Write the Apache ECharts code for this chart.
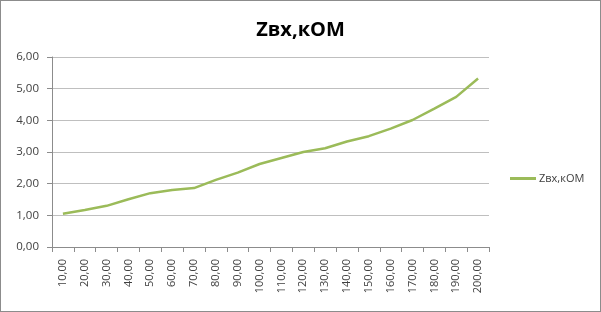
<!DOCTYPE html>
<html>
<head>
<meta charset="utf-8">
<script src="https://cdn.jsdelivr.net/npm/echarts@6/dist/echarts.min.js"></script>
<style>
html,body{margin:0;padding:0;background:#fff;}
#frame{position:absolute;left:0;top:0;width:599px;height:310px;border:1px solid #8c8c8c;}
#chart{position:absolute;left:0;top:0;width:601px;height:312px;}
</style>
</head>
<body>
<div id="frame"></div>
<div id="chart"></div>
<script>
const titleText = 'Zвх,кОМ';
const seriesName = 'Zвх,кОМ';
const categories = [10,20,30,40,50,60,70,80,90,100,110,120,130,140,150,160,170,180,190,200];
const values = [1.05,1.17,1.30,1.51,1.70,1.80,1.86,2.12,2.35,2.62,2.81,3.00,3.12,3.33,3.50,3.74,4.01,4.37,4.74,5.32];
const yTicks = [0,1,2,3,4,5,6];

const fmt = v => Number(v).toFixed(2).replace('.', ',');
const chart = echarts.init(document.getElementById('chart'));
chart.setOption({
  animation: false,
  title: {
    text: titleText, left: 'center', top: 15,
    textStyle: {fontFamily: 'Open Sans', fontWeight: 'bold', fontSize: 20, color: '#000'}
  },
  legend: {
    data: [seriesName], left: 505, top: 168, icon: 'rect', itemWidth: 26, itemHeight: 3, itemGap: 4,
    textStyle: {fontFamily: 'Open Sans', fontSize: 11, color: '#404040', padding: [0,0,0,-2]}
  },
  grid: {left: 52, right: 112, top: 57, bottom: 65, containLabel: false},
  xAxis: {
    type: 'category', data: categories.map(fmt), boundaryGap: true,
    axisLine: {lineStyle: {color: '#8c8c8c', width: 1}},
    axisTick: {show: true, length: 5, alignWithLabel: false, lineStyle: {color: '#8c8c8c'}},
    axisLabel: {rotate: 90, interval: 0, fontFamily: 'Open Sans', fontSize: 11, color: '#404040', margin: 12}
  },
  yAxis: {
    type: 'value', min: yTicks[0], max: yTicks[yTicks.length-1], interval: 1,
    axisLine: {show: true, lineStyle: {color: '#8c8c8c', width: 1}},
    axisTick: {show: true, length: 5, lineStyle: {color: '#8c8c8c'}},
    splitLine: {lineStyle: {color: '#bfbfbf', width: 1}},
    axisLabel: {formatter: fmt, fontFamily: 'Open Sans', fontSize: 11.5, color: '#404040', margin: 13}
  },
  series: [{
    name: seriesName, type: 'line', data: values, symbol: 'none', smooth: false,
    lineStyle: {color: '#9bbb59', width: 2.5}, itemStyle: {color: '#9bbb59'}
  }]
});
</script>
</body>
</html>
